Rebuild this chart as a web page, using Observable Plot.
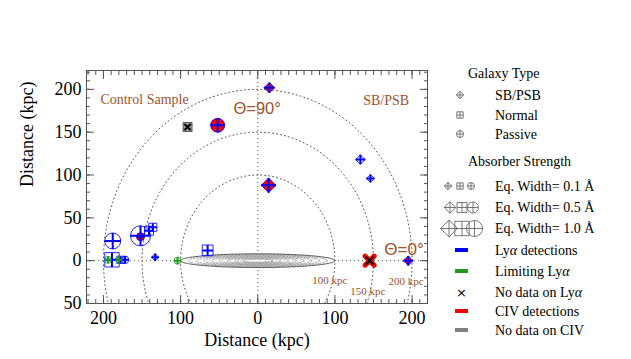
<!DOCTYPE html>
<html><head><meta charset="utf-8">
<script src="https://cdn.jsdelivr.net/npm/d3@7"></script>
<script src="https://cdn.jsdelivr.net/npm/@observablehq/plot@0.6"></script>
<style>
body{margin:0;background:#fff;}
#wrap{position:relative;width:631px;height:359px;font-family:"Liberation Serif","Times New Roman",serif;}
#wrap svg{position:absolute;left:0;top:0;}
</style></head><body><div id="wrap"></div>
<script>
// ---- data (kpc; negative x = Control Sample side) ----
const xKpc      = [15, -52, -91, 14, 133, 146, 145, 195, -188, -152, -152, -141, -136, -133, -189, -194, -180, -178, -172, -104, -65];
const yKpc      = [202, 158, 156, 88, 118, 96, 0, 0, 23, 29, 28, 35, 39, 4, 1, 1, 1, 1, 1, 0, 12];
const galType   = ["SB","P","N","SB","SB","SB","SB","SB","P","P","P","N","N","SB","N","P","P","N","P","P","N"];
const eqWidth   = [0.4, 0.8, 0.4, 0.8, 0.3, 0.15, 0.7, 0.3, 1.0, 1.4, 0.2, 0.4, 0.3, 0.1, 1.0, 0.1, 0.1, 0.2, 0.15, 0.1, 0.6];
const lyaStatus = ["det","det","none","det","det","det","none","det","det","det","det","det","det","det","det","lim","lim","det","det","lim","det"];
const civStatus = ["det","det","none","det","nd","nd","det","det","nd","nd","det","nd","nd","nd","nd","nd","nd","nd","nd","nd","nd"];

const ringRadii = [100, 150, 200];
const diskScales = [1, 0.9, 0.8, 0.7, 0.6, 0.5, 0.4, 0.3, 0.2];
const xMajor = [-200, -100, 0, 100, 200];
const yMajor = [-50, 0, 50, 100, 150, 200];
const annotations = [
  {x: -204, y: 188, text: "Control Sample", size: 14, font: "'Liberation Serif', serif"},
  {x: 136.6, y: 187, text: "SB/PSB", size: 14, font: "'Liberation Serif', serif"},
  {x: -31.5, y: 177.5, text: "Θ=90°", size: 16.5, font: "'Liberation Sans', sans-serif"},
  {x: 164, y: 13, text: "Θ=0°", size: 17, font: "'Liberation Sans', sans-serif"},
  {x: 70.5, y: -23, text: "100 kpc", size: 11, font: "'Liberation Serif', serif"},
  {x: 120, y: -35.6, text: "150 kpc", size: 11, font: "'Liberation Serif', serif"},
  {x: 169.5, y: -24, text: "200 kpc", size: 11, font: "'Liberation Serif', serif"}
];

const points = xKpc.map((x, i) => ({x, y: yKpc[i], type: galType[i], ew: eqWidth[i], lya: lyaStatus[i], civ: civStatus[i]}));
const lyaColor = {det: "#0000ff", lim: "#1f9a1f", none: "#000000"};
const civColor = {det: "#ff0000", none: "#9a9a9a", nd: "none"};
const brown = "#a0522d";

// ---- custom symbols ----
const rad = s => Math.sqrt(s / Math.PI);
const circleSym = {draw(c, s){ const r = rad(s); c.moveTo(r, 0); c.arc(0, 0, r, 0, 2*Math.PI); c.closePath(); }};
const squareSym = {draw(c, s){ const r = rad(s)*0.9; c.moveTo(-r,-r); c.lineTo(r,-r); c.lineTo(r,r); c.lineTo(-r,r); c.closePath(); }};
const diamondSym = {draw(c, s){ const r = rad(s)*1.05; c.moveTo(0,-r); c.lineTo(r,0); c.lineTo(0,r); c.lineTo(-r,0); c.closePath(); }};
const plusSym = k => ({draw(c, s){ const r = rad(s)*k; c.moveTo(-r,0); c.lineTo(r,0); c.moveTo(0,-r); c.lineTo(0,r); }});
const timesSym = k => ({draw(c, s){ const r = rad(s)*k; c.moveTo(-r,-r); c.lineTo(r,r); c.moveTo(-r,r); c.lineTo(r,-r); }});
const shapeOf = {SB: diamondSym, N: squareSym, P: circleSym};
const plusK = {SB: 1.05, N: 0.9, P: 1};

// ---- geometry helpers (rings & disk drawn through the scales) ----
const angles = d3.range(0, 361, 2).map(a => a * Math.PI / 180);
const ringPts = ringRadii.flatMap(R => angles.map(t => ({R, x: R*Math.cos(t), y: R*Math.sin(t)})));
const diskPts = diskScales.flatMap(k => angles.map(t => ({k, x: 100*k*Math.cos(t), y: 8*k*Math.sin(t)})));

const marks = [
  Plot.line(ringPts, {x: "x", y: "y", z: "R", stroke: "#555", strokeWidth: 1, strokeDasharray: "1,3", clip: true}),
  Plot.ruleY([0], {stroke: "#555", strokeDasharray: "1,3"}),
  Plot.ruleX([0], {stroke: "#555", strokeDasharray: "1,3"}),
  Plot.areaY(diskPts.filter(d => d.k === 1), {x: "x", y: "y", fill: "white"}),
  Plot.line(diskPts.filter(d => d.k < 1), {x: "x", y: "y", z: "k", stroke: "#888", strokeWidth: 0.8, strokeDasharray: "2,1.5"}),
  Plot.line(diskPts.filter(d => d.k === 1), {x: "x", y: "y", stroke: "#555", strokeWidth: 1}),
  Plot.frame({stroke: "#555"}),
  // ticks (inward) on all sides
  Plot.axisX({ticks: d3.range(-220, 221, 10), anchor: "bottom", tickSize: -4, tickFormat: () => "", label: null, stroke: "#555"}),
  Plot.axisX({ticks: xMajor, anchor: "bottom", tickSize: -8, tickFormat: () => "", label: null, stroke: "#555"}),
  Plot.axisX({ticks: d3.range(-220, 221, 10), anchor: "top", tickSize: -4, tickFormat: () => "", label: null, stroke: "#555"}),
  Plot.axisX({ticks: xMajor, anchor: "top", tickSize: -8, tickFormat: () => "", label: null, stroke: "#555"}),
  Plot.axisY({ticks: d3.range(-50, 221, 10), anchor: "left", tickSize: -4, tickFormat: () => "", label: null, stroke: "#555"}),
  Plot.axisY({ticks: yMajor, anchor: "left", tickSize: -8, tickFormat: () => "", label: null, stroke: "#555"}),
  Plot.axisY({ticks: d3.range(-50, 221, 10), anchor: "right", tickSize: -4, tickFormat: () => "", label: null, stroke: "#555"}),
  Plot.axisY({ticks: yMajor, anchor: "right", tickSize: -8, tickFormat: () => "", label: null, stroke: "#555"}),
  // tick labels
  Plot.axisX({ticks: xMajor, anchor: "bottom", tickSize: 0, tickPadding: 8, tickFormat: d => Math.abs(d), label: null, fontSize: 18}),
  Plot.axisY({ticks: yMajor, anchor: "left", tickSize: 0, tickPadding: 5, tickFormat: d => Math.abs(d), label: null, fontSize: 18}),
  Plot.text(["Distance (kpc)"], {text: d => d, frameAnchor: "bottom", dy: 42, fontSize: 18}),
  Plot.text(["Distance (kpc)"], {text: d => d, frameAnchor: "left", dx: -59, rotate: -90, fontSize: 18}),
  // annotations
  ...annotations.map(a => Plot.text([a], {x: "x", y: "y", text: "text", fill: brown, fontSize: a.size, fontFamily: a.font, textAnchor: "start"}))
];

// shape layer
for (const t of ["SB", "N", "P"]) {
  marks.push(Plot.dot(points, {
    filter: d => d.type === t && !(d.lya === "none" && d.civ === "det"),
    x: "x", y: "y", r: "ew", symbol: shapeOf[t],
    fill: d => civColor[d.civ],
    stroke: d => d.lya === "none" ? "#444" : lyaColor[d.lya],
    strokeWidth: 1, strokeOpacity: 0.85, sort: {channel: "r", order: "descending"}
  }));
}
// red X for CIV detection w/o Lya data
marks.push(Plot.dot(points, {filter: d => d.lya === "none" && d.civ === "det", x: "x", y: "y", r: "ew", symbol: timesSym(0.7), stroke: "#ff0000", strokeWidth: 5, strokeLinecap: "round"}));
// glyph layer
for (const t of ["SB", "N", "P"]) {
  marks.push(Plot.dot(points, {
    filter: d => d.type === t && d.lya !== "none",
    x: "x", y: "y", r: "ew", symbol: plusSym(plusK[t]),
    stroke: d => lyaColor[d.lya], strokeWidth: 2
  }));
}
marks.push(Plot.dot(points, {filter: d => d.lya === "none", x: "x", y: "y", r: "ew", symbol: timesSym(0.62), stroke: "#000", strokeWidth: 2}));

const chart = Plot.plot({
  width: 631, height: 359,
  marginLeft: 86, marginRight: 204, marginTop: 70, marginBottom: 56,
  x: {domain: [-222, 220]},
  y: {domain: [-50, 222]},
  r: {type: "linear", domain: [0, 1], range: [3, 8]},
  color: {type: "identity"},
  style: {fontFamily: "'Liberation Serif', serif", fontSize: "18px", color: "#000", background: "transparent", overflow: "visible"},
  marks
});
document.getElementById("wrap").appendChild(chart);

// ---- legend (overlay) ----
const legTitles = [["Galaxy Type", 73], ["Absorber Strength", 161.5]];
const typeRows = [["SB", "SB/PSB", 95], ["N", "Normal", 115], ["P", "Passive", 134]];
const ewRows = [[0.1, 186, [448, 460, 471]], [0.5, 207.5, [450, 462, 473]], [1.0, 228.5, [449, 462, 474.5]]];
const statusRows = [["bar", "#0000ff", "Lyα detections", 250], ["bar", "#1f9a1f", "Limiting Lyα", 271], ["x", "#000", "No data on Lyα", 292.5], ["bar", "#ff0000", "CIV detections", 311], ["bar", "#808080", "No data on CIV", 330]];
const rS = d3.scaleLinear([0, 1], [3, 8]);
const leg = d3.create("svg").attr("width", 631).attr("height", 359)
  .style("font-family", "'Liberation Serif', serif").style("font-size", "14px").style("pointer-events", "none");
const txt = (x, y, s) => {
  const t = leg.append("text").attr("x", x).attr("y", y).attr("dy", "0.35em");
  const parts = s.split("α");
  parts.forEach((p, i) => { t.append("tspan").text(p); if (i < parts.length - 1) t.append("tspan").attr("font-style", "italic").text("α"); });
};
const sym = (t, ew, x, y) => {
  const size = Math.PI * rS(ew) ** 2;
  leg.append("path").attr("d", d3.symbol(shapeOf[t], size)()).attr("transform", `translate(${x},${y})`).attr("fill", "none").attr("stroke", "#666").attr("stroke-width", 0.9);
  leg.append("path").attr("d", d3.symbol(plusSym(plusK[t]), size)()).attr("transform", `translate(${x},${y})`).attr("fill", "none").attr("stroke", "#666").attr("stroke-width", 0.9);
};
legTitles.forEach(([s, y]) => txt(468, y, s));
typeRows.forEach(([t, s, y]) => { sym(t, 0.1, 460, y); txt(495, y, s); });
ewRows.forEach(([ew, y, xs]) => { ["SB", "N", "P"].forEach((t, i) => sym(t, ew, xs[i], y)); txt(495, y, `Eq. Width= ${ew.toFixed(1)} Å`); });
statusRows.forEach(([kind, col, s, y]) => {
  if (kind === "bar") leg.append("rect").attr("x", 455).attr("y", y - 2).attr("width", 13).attr("height", 4).attr("fill", col);
  else leg.append("text").attr("x", 461.5).attr("y", y).attr("dy", "0.35em").attr("text-anchor", "middle").style("font-family", "'DejaVu Sans', sans-serif").style("font-size", "13px").text("×");
  txt(495, y, s);
});
document.getElementById("wrap").appendChild(leg.node());
</script></body></html>
